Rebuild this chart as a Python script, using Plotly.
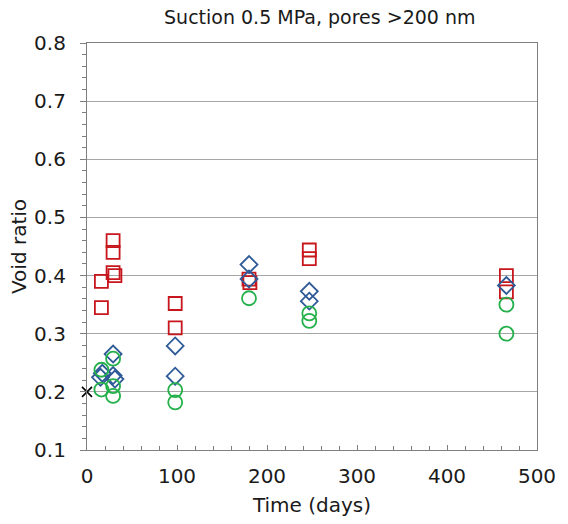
import plotly.graph_objects as go

# Red squares
sq_x = [16, 16, 29, 29, 29, 31, 98, 98, 180, 181, 247, 247, 466, 466]
sq_y = [0.345, 0.39, 0.46, 0.44, 0.405, 0.40, 0.352, 0.31, 0.394, 0.388, 0.444, 0.429, 0.40, 0.372]

# Blue diamonds
dm_x = [15, 17, 29, 29, 31, 98, 98, 180, 180, 247, 247, 466]
dm_y = [0.225, 0.232, 0.265, 0.228, 0.222, 0.279, 0.227, 0.419, 0.394, 0.373, 0.356, 0.383]

# Green circles
ci_x = [16, 16, 29, 29, 29, 98, 98, 180, 247, 247, 466, 466]
ci_y = [0.238, 0.204, 0.257, 0.21, 0.193, 0.203, 0.182, 0.361, 0.335, 0.322, 0.35, 0.30]

# Initial value
x0 = [0]
y0 = [0.2]

FONT = "DejaVu Sans"

fig = go.Figure()
fig.add_trace(go.Scatter(x=sq_x, y=sq_y, mode="markers",
                         marker=dict(symbol="square-open", size=13, color="#C8161D",
                                     line=dict(width=1.8, color="#C8161D"))))
fig.add_trace(go.Scatter(x=dm_x, y=dm_y, mode="markers",
                         marker=dict(symbol="diamond-open", size=13, color="#2E5A97",
                                     line=dict(width=1.8, color="#2E5A97"))))
fig.add_trace(go.Scatter(x=ci_x, y=ci_y, mode="markers",
                         marker=dict(symbol="circle-open", size=14, color="#24B04A",
                                     line=dict(width=1.8, color="#24B04A"))))
fig.add_trace(go.Scatter(x=x0, y=y0, mode="markers", cliponaxis=False,
                         marker=dict(symbol="x-thin-open", size=10, color="#000000",
                                     line=dict(width=1.6, color="#000000"))))

fig.update_layout(
    width=568, height=524,
    margin=dict(l=87, r=21, t=43, b=72),
    paper_bgcolor="white", plot_bgcolor="white",
    showlegend=False,
    font=dict(family=FONT, color="#1A1A1A"),
    title=dict(text="Suction 0.5 MPa, pores >200 nm", x=0.563, xanchor="center",
               y=0.966, yanchor="middle", font=dict(size=19, family=FONT)),
)
fig.update_xaxes(
    range=[0, 500], dtick=100, tick0=0,
    showgrid=False, zeroline=False,
    showline=True, linecolor="#7F7F7F", linewidth=1.2, mirror=True,
    ticks="inside", ticklen=5, tickcolor="#7F7F7F",
    minor=dict(dtick=20, ticks="inside", ticklen=4, tickcolor="#7F7F7F", showgrid=False),
    tickfont=dict(size=20), ticklabelstandoff=8,
    title=dict(text="Time (days)", font=dict(size=20), standoff=10),
)
fig.update_yaxes(
    range=[0.1, 0.8], dtick=0.1, tick0=0.1, tickformat=".1f",
    showgrid=True, gridcolor="#A6A6A6", gridwidth=1, zeroline=False,
    showline=True, linecolor="#7F7F7F", linewidth=1.2, mirror=True,
    ticks="outside", ticklen=6, tickcolor="#7F7F7F",
    minor=dict(dtick=0.02, ticks="outside", ticklen=4, tickcolor="#7F7F7F", showgrid=False),
    tickfont=dict(size=20), ticklabelstandoff=10,
    title=dict(text="Void ratio", font=dict(size=20), standoff=2),
)

fig.write_html("out.html")
